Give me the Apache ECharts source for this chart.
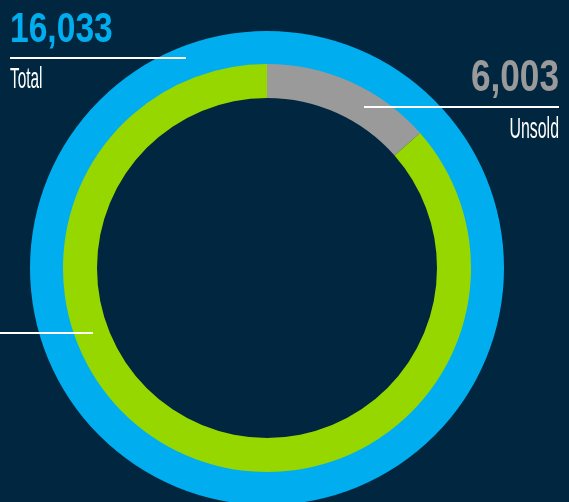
<!DOCTYPE html>
<html>
<head>
<meta charset="utf-8">
<script src="https://cdn.jsdelivr.net/npm/echarts@6/dist/echarts.min.js"></script>
<style>
  html, body { margin: 0; padding: 0; background: #00273f; }
  #chart { width: 569px; height: 502px; }
</style>
</head>
<body>
<div id="chart"></div>
<script>
// outer ring: total
var totalName = 'Total';
var totalValue = 16033;
// inner ring: share of arc as drawn (unsold / sold)
var innerNames = ['Unsold', 'Sold'];
var innerShares = [13.5, 86.5];
var unsoldValue = 6003;

var colors = {
  bg: '#00273f',
  blue: '#00aeef',
  green: '#97d700',
  grey: '#9a9a9a'
};

function fmt(n) {
  return n.toLocaleString('en-US');
}

var chartDom = echarts.init(document.getElementById('chart'));

var font = "'Liberation Sans', Arial, sans-serif";

chartDom.setOption({
  backgroundColor: colors.bg,
  animation: false,
  series: [
    {
      name: totalName,
      type: 'pie',
      center: [267, 268],
      radius: [203, 237],
      silent: true,
      label: { show: false },
      labelLine: { show: false },
      itemStyle: { color: colors.blue, borderWidth: 0 },
      data: [{ name: totalName, value: totalValue }]
    },
    {
      name: 'inner',
      type: 'pie',
      center: [267, 268],
      radius: [170, 204],
      startAngle: 90,
      clockwise: true,
      silent: true,
      label: { show: false },
      labelLine: { show: false },
      itemStyle: { borderWidth: 0 },
      data: innerNames.map(function (n, i) {
        return {
          name: n,
          value: innerShares[i],
          itemStyle: { color: i === 0 ? colors.grey : colors.green }
        };
      })
    }
  ],
  graphic: [
    // total label
    {
      type: 'text', x: 10, y: 30, scaleX: 0.8, z: 100,
      style: {
        text: fmt(totalValue), fill: colors.blue, font: 'bold 42px ' + font,
        textAlign: 'left', textVerticalAlign: 'middle'
      }
    },
    {
      type: 'line', z: 100, shape: { x1: 10, y1: 58, x2: 186, y2: 58 },
      style: { stroke: '#fff', lineWidth: 2 }
    },
    {
      type: 'text', x: 10, y: 80, scaleX: 0.53, z: 100,
      style: {
        text: totalName, fill: '#fff', font: '29px ' + font,
        textAlign: 'left', textVerticalAlign: 'middle'
      }
    },
    // unsold label
    {
      type: 'text', x: 559, y: 79, scaleX: 0.8, z: 100,
      style: {
        text: fmt(unsoldValue), fill: colors.grey, font: 'bold 44px ' + font,
        textAlign: 'right', textVerticalAlign: 'middle'
      }
    },
    {
      type: 'line', z: 100, shape: { x1: 364, y1: 107, x2: 559, y2: 107 },
      style: { stroke: '#fff', lineWidth: 2 }
    },
    {
      type: 'text', x: 559, y: 130, scaleX: 0.53, z: 100,
      style: {
        text: innerNames[0], fill: '#fff', font: '30px ' + font,
        textAlign: 'right', textVerticalAlign: 'middle'
      }
    },
    // sold pointer (label off-canvas)
    {
      type: 'line', z: 100, shape: { x1: 0, y1: 333, x2: 93, y2: 333 },
      style: { stroke: '#fff', lineWidth: 2 }
    }
  ]
});
</script>
</body>
</html>
